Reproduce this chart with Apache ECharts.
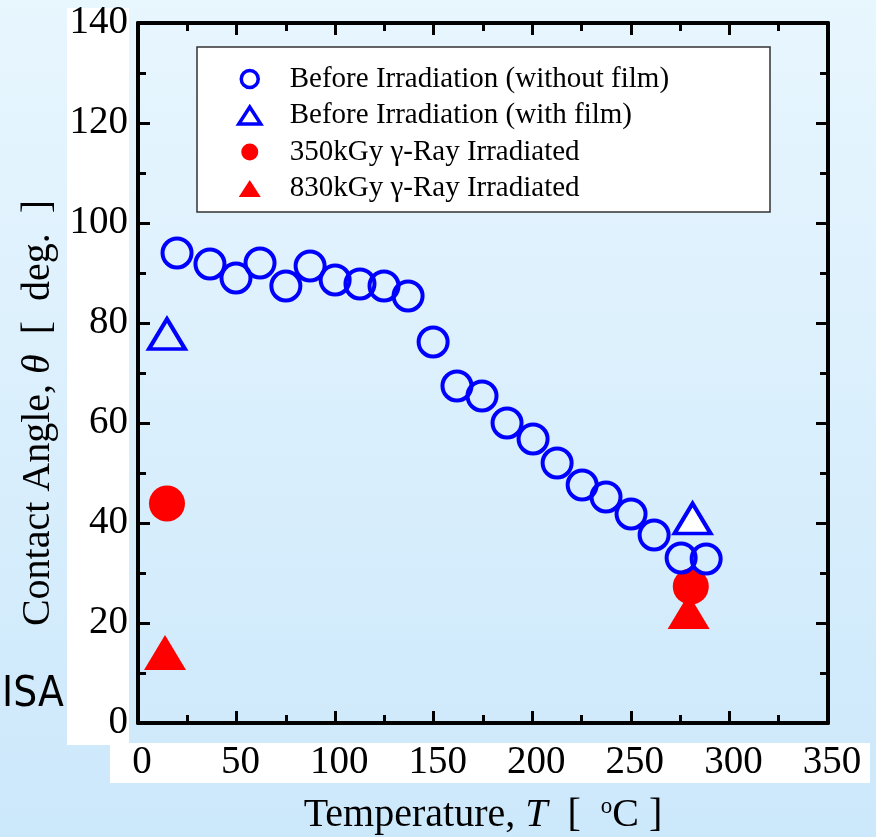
<!DOCTYPE html>
<html><head><meta charset="utf-8">
<script src="https://cdn.jsdelivr.net/npm/echarts@6/dist/echarts.min.js"></script>
<style>html,body{margin:0;padding:0;}#c{width:876px;height:837px;}</style>
</head><body><div id="c"></div>
<script>
// ---- data ----
const withoutFilmT = [19.8, 36.5, 49.7, 61.9, 75.0, 87.3, 100.0, 112.6, 124.8, 137.0, 149.7, 161.8, 174.5, 187.2, 200.4, 212.6, 225.3, 237.4, 250.1, 261.8, 275.5, 288.2];
const withoutFilmA = [94.0, 91.8, 89.0, 92.0, 87.4, 91.4, 88.6, 87.8, 87.4, 85.4, 76.2, 67.4, 65.4, 60.0, 56.8, 52.0, 47.6, 45.2, 41.8, 37.6, 33.0, 32.8];
const withFilmT = [14.7, 281.3];
const withFilmA = [77.8, 40.9];
const irr350T = [14.7, 280.4];
const irr350A = [43.9, 27.3];
const irr830T = [13.7, 279.3];
const irr830A = [14.1, 22.3];
const xTicks = [0, 50, 100, 150, 200, 250, 300, 350];
const yTicks = [0, 20, 40, 60, 80, 100, 120, 140];
const seriesNames = ['Before Irradiation (without film)', 'Before Irradiation (with film)', '350kGy \u03b3-Ray Irradiated', '830kGy \u03b3-Ray Irradiated'];

const pair = (xs, ys) => xs.map((x, i) => [x, ys[i]]);
const SERIF = 'Liberation Serif';
const BLUE = '#0000ff', RED = '#ff0000';

const chart = echarts.init(document.getElementById('c'), null, {renderer: 'canvas'});
const axisCommon = () => ({
  axisLine: {onZero: false, lineStyle: {color: '#000', width: 4}},
  axisTick: {inside: true, length: 12, lineStyle: {color: '#000', width: 3}},
  minorTick: {show: true, splitNumber: 2, length: 8, lineStyle: {color: '#000', width: 3}},
  splitLine: {show: false}
});
const xMin = xTicks[0], xMax = xTicks[xTicks.length - 1], xInt = xTicks[1] - xTicks[0];
const yMin = yTicks[0], yMax = yTicks[yTicks.length - 1], yInt = yTicks[1] - yTicks[0];

chart.setOption({
  animation: false,
  graphic: [
    {type: 'rect', z: -100, shape: {x: 0, y: 0, width: 876, height: 837},
      style: {fill: new echarts.graphic.LinearGradient(0, 0, 0, 1, [{offset: 0, color: '#e8f6fe'}, {offset: 1, color: '#cce8fb'}])}},
    {type: 'rect', z: -50, shape: {x: 67, y: 8, width: 62, height: 737}, style: {fill: '#ffffff'}},
    {type: 'rect', z: -50, shape: {x: 110, y: 743, width: 760, height: 40}, style: {fill: '#ffffff'}},
    {type: 'rect', z: 1, shape: {x: 197, y: 47, width: 573, height: 165}, style: {fill: '#ffffff', stroke: '#333', lineWidth: 1.5}},
    {type: 'text', z: 5, left: 2, top: 674, style: {text: 'ISA', font: '42px "DejaVu Sans Condensed"', fill: '#000'}}
  ],
  grid: {left: 138, right: 48, top: 23, bottom: 114, outerBoundsMode: 'none', containLabel: false},
  legend: {
    z: 6, left: 237, top: 64, orient: 'vertical', padding: 0, itemGap: 6.5,
    itemWidth: 22, itemHeight: 17,
    textStyle: {fontFamily: SERIF, fontSize: 29, color: '#000', lineHeight: 30, padding: [0, 0, 0, 24]},
    data: [
      {name: seriesNames[0], icon: 'circle', itemStyle: {color: '#fff', borderColor: BLUE, borderWidth: 3.5}},
      {name: seriesNames[1], icon: 'triangle', itemStyle: {color: '#fff', borderColor: BLUE, borderWidth: 3.5}},
      {name: seriesNames[2], icon: 'circle', itemStyle: {color: RED, borderWidth: 0}},
      {name: seriesNames[3], icon: 'triangle', itemStyle: {color: RED, borderWidth: 0}}
    ]
  },
  xAxis: [
    Object.assign({type: 'value', position: 'bottom', min: xMin, max: xMax, interval: xInt,
      name: 'Temperature, {i|T}  [  {s|o}C ]', nameLocation: 'middle', nameGap: 72,
      nameTextStyle: {fontFamily: SERIF, fontSize: 40, color: '#000',
        rich: {i: {fontFamily: SERIF, fontSize: 40, fontStyle: 'italic', color: '#000'},
               s: {fontFamily: SERIF, fontSize: 23, color: '#000', padding: [0, 0, 18, 0]}}},
      axisLabel: {fontFamily: SERIF, fontSize: 39, color: '#000', margin: 20, padding: [0, 0, 0, 8]}}, axisCommon()),
    Object.assign({type: 'value', position: 'top', min: xMin, max: xMax, interval: xInt, axisLabel: {show: false}}, axisCommon())
  ],
  yAxis: [
    Object.assign({type: 'value', position: 'left', min: yMin, max: yMax, interval: yInt,
      name: 'Contact Angle, {i|\u03b8}  [  deg.  ]', nameLocation: 'middle', nameGap: 76,
      nameTextStyle: {fontFamily: SERIF, fontSize: 40, color: '#000', padding: [0, 80, 0, 0],
        rich: {i: {fontFamily: SERIF, fontSize: 40, fontStyle: 'italic', color: '#000'}}},
      axisLabel: {fontFamily: SERIF, fontSize: 39, color: '#000', margin: 10}}, axisCommon()),
    Object.assign({type: 'value', position: 'right', min: yMin, max: yMax, interval: yInt, axisLabel: {show: false}}, axisCommon())
  ],
  series: [
    {name: seriesNames[2], type: 'scatter', z: 2, symbol: 'circle', symbolSize: 36,
      itemStyle: {color: RED, opacity: 1}, data: pair(irr350T, irr350A)},
    {name: seriesNames[3], type: 'scatter', z: 3, symbol: 'triangle', symbolSize: [42, 35],
      itemStyle: {color: RED, opacity: 1}, data: pair(irr830T, irr830A)},
    {name: seriesNames[1], type: 'scatter', z: 4, symbol: 'triangle', symbolSize: [36, 30],
      itemStyle: {color: 'rgba(255,255,255,0)', borderColor: BLUE, borderWidth: 4, opacity: 1},
      data: pair(withFilmT, withFilmA).map((p, i) => i === 1 ? {value: p, itemStyle: {color: '#fff'}} : p)},
    {name: seriesNames[0], type: 'scatter', z: 5, symbol: 'circle', symbolSize: 29,
      itemStyle: {color: 'rgba(255,255,255,0)', borderColor: BLUE, borderWidth: 4, opacity: 1},
      data: pair(withoutFilmT, withoutFilmA)}
  ]
});
</script></body></html>
